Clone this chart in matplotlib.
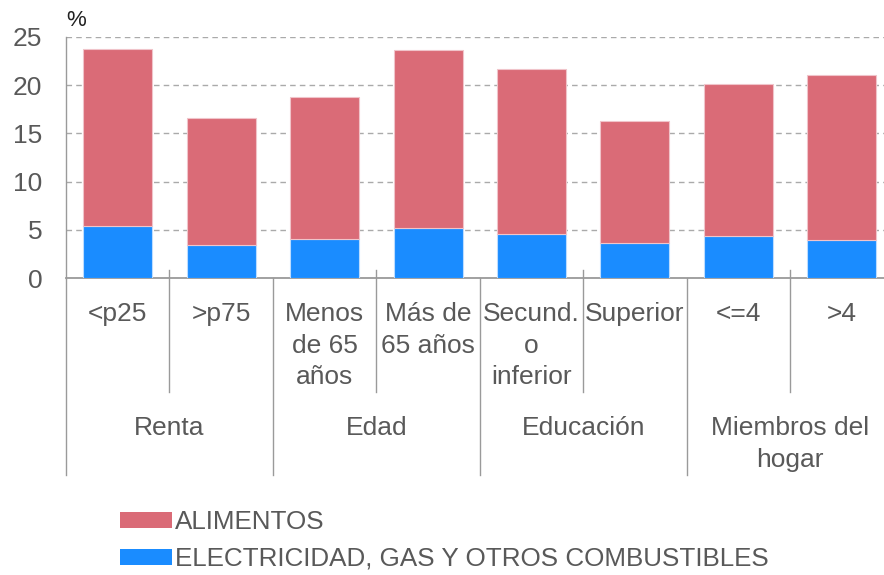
import matplotlib
matplotlib.use('Agg')
import matplotlib.pyplot as plt
from matplotlib.patches import Patch
import numpy as np

# datos (% del gasto)
categories = ['<p25', '>p75', 'Menos\nde 65\naños', 'Más de\n65 años',
              'Secund.\no\ninferior', 'Superior', '<=4', '>4']
groups = ['Renta', 'Edad', 'Educación', 'Miembros del\nhogar']
group_sizes = [2, 2, 2, 2]
electricidad = [5.4, 3.4, 4.0, 5.2, 4.6, 3.6, 4.4, 3.9]
alimentos = [18.35, 13.15, 14.75, 18.5, 17.1, 12.65, 15.7, 17.2]
yticks = [0, 5, 10, 15, 20, 25]

plt.rcParams['font.family'] = ['Liberation Sans', 'DejaVu Sans']

red = '#da6b77'
blue = '#1a8cff'
grey_txt = '#595959'
line_c = '#9a9a9a'

fig = plt.figure(figsize=(8.84, 5.75), dpi=100)
# axes a bit wider than the figure: the last column is cut off in the original
ax = fig.add_axes([66 / 884, (575 - 278) / 575, 827.5 / 884, 241 / 575])

x = np.arange(len(categories))
ax.bar(x, electricidad, width=0.667, color=blue, edgecolor='#bcdcff', linewidth=0.8, zorder=3)
ax.bar(x, alimentos, width=0.667, bottom=electricidad, color=red, edgecolor='#f0c4ca',
       linewidth=0.8, zorder=3)

ax.set_xlim(-0.5, len(categories) - 0.5)
ax.set_ylim(0, 25)
ax.set_yticks(yticks)
ax.set_xticks([])
ax.tick_params(axis='y', length=0, pad=17, labelsize=19, labelcolor=grey_txt)
ax.yaxis.grid(True, linestyle=(0, (4, 3)), color='#aaaaaa', linewidth=1)
ax.set_axisbelow(True)

for s in ['top', 'right']:
    ax.spines[s].set_visible(False)
ax.spines['bottom'].set_color(line_c)
ax.spines['bottom'].set_linewidth(1.3)
ax.spines['left'].set_color(line_c)
ax.spines['left'].set_linewidth(1)

trans = ax.get_xaxis_transform()

# category labels
for xi, lab in zip(x, categories):
    ax.text(xi, -0.1, lab, transform=trans, ha='center', va='top', fontsize=19,
            color=grey_txt, linespacing=1.4)

# separators between categories and between groups
bounds = np.cumsum(group_sizes) - 0.5
starts = np.concatenate([[-0.5], bounds[:-1]])
for b in np.concatenate([[-0.5], bounds]):
    ax.plot([b, b], [0, -0.817], transform=trans, color=line_c, lw=1, clip_on=False)
for s0, n in zip(starts, group_sizes):
    for k in range(1, n):
        ax.plot([s0 + k, s0 + k], [0.033, -0.473], transform=trans, color=line_c, lw=1,
                clip_on=False)

# group labels
for s0, n, g in zip(starts, group_sizes, groups):
    ax.text(s0 + n / 2, -0.573, g, transform=trans, ha='center', va='top', fontsize=19,
            color=grey_txt, linespacing=1.4)

ax.text(0, 1.07, '%', transform=ax.transAxes, ha='left', va='center', fontsize=16, color='#222222')

handles = [Patch(facecolor=red, edgecolor='none'), Patch(facecolor=blue, edgecolor='none')]
fig.legend(handles, ['ALIMENTOS', 'ELECTRICIDAD, GAS Y OTROS COMBUSTIBLES'],
           loc='upper left', bbox_to_anchor=(120 / 884, 1 - 510 / 575), frameon=False,
           fontsize=18.7, labelcolor=grey_txt, handlelength=2.0, handleheight=0.55,
           handletextpad=0.12, labelspacing=0.5, borderpad=0, borderaxespad=0)

fig.savefig('out.png', dpi=100)
